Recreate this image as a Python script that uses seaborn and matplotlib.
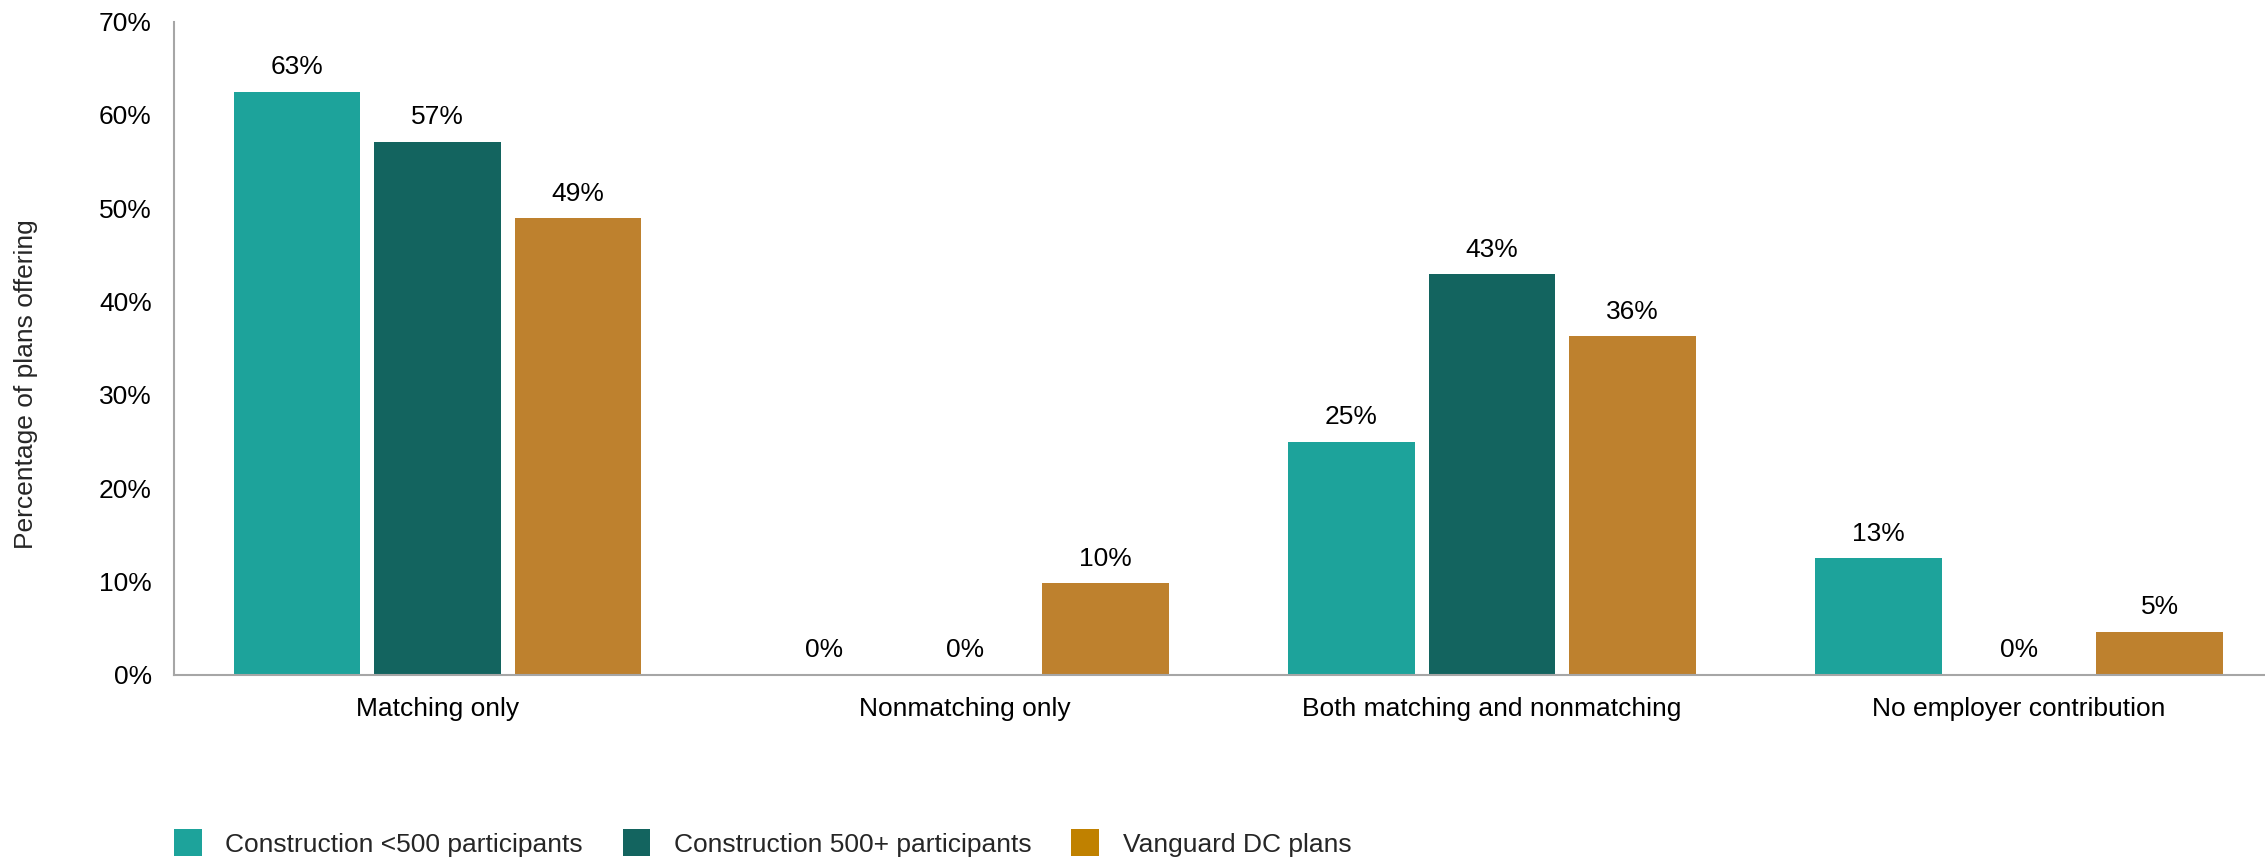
import pandas as pd
import seaborn as sns
import matplotlib.pyplot as plt
from matplotlib.patches import Patch

# chart data
categories = ['Matching only', 'Nonmatching only', 'Both matching and nonmatching', 'No employer contribution']
series = ['Construction <500 participants', 'Construction 500+ participants', 'Vanguard DC plans']
small_plans = [62.5, 0.0, 25.0, 12.5]
large_plans = [57.1, 0.0, 42.9, 0.0]
vanguard_plans = [48.9, 9.8, 36.3, 4.6]
small_labels = ['63%', '0%', '25%', '13%']
large_labels = ['57%', '0%', '43%', '0%']
vanguard_labels = ['49%', '10%', '36%', '5%']
yticks = [0, 10, 20, 30, 40, 50, 60, 70]

bar_colors = ['#1DA39B', '#13645F', '#BE812E']
legend_colors = ['#1DA39B', '#13645F', '#C08100']

df = pd.DataFrame({
    'category': categories * 3,
    'series': [s for s in series for _ in categories],
    'value': small_plans + large_plans + vanguard_plans,
})

sns.set_style('white')
plt.rcParams['font.family'] = ['Liberation Sans', 'DejaVu Sans']
fs = 19

fig = plt.figure(figsize=(22.65, 8.63), dpi=100)
ax = fig.add_axes([0.0768, 0.218, 0.931, 0.757])

sns.barplot(data=df, x='category', y='value', hue='series', order=categories,
            hue_order=series, palette=bar_colors, width=0.8, gap=0.1,
            linewidth=0, saturation=1, legend=False, ax=ax)

for cont, labs in zip(ax.containers, [small_labels, large_labels, vanguard_labels]):
    ax.bar_label(cont, labels=labs, padding=9, fontsize=fs, color='black')

ax.set_ylim(0, 70)
ax.set_xlim(-0.5, 3.5)
ax.set_yticks(yticks)
ax.set_yticklabels([f'{t}%' for t in yticks])
ax.tick_params(axis='both', length=0, labelsize=fs, labelcolor='black')
ax.tick_params(axis='y', pad=16)
ax.tick_params(axis='x', pad=16)
ax.set_xlabel('')
ax.set_ylabel('')
for side in ['top', 'right']:
    ax.spines[side].set_visible(False)
for side in ['left', 'bottom']:
    ax.spines[side].set_color('#A6A6A6')
    ax.spines[side].set_linewidth(1.5)

fig.text(26 / 2265, 1 - 384 / 863, 'Percentage of plans offering', rotation=90,
         ha='center', va='center', fontsize=fs)

handles = [Patch(facecolor=c, edgecolor='none') for c in legend_colors]
fig.legend(handles, series, loc='center left', bbox_to_anchor=(174 / 2265, 1 - 843 / 863),
           ncol=3, frameon=False, fontsize=fs, handlelength=1.05, handleheight=1.2,
           handletextpad=0.9, columnspacing=1.5, borderaxespad=0, borderpad=0)

fig.savefig('out.png', dpi=100)
